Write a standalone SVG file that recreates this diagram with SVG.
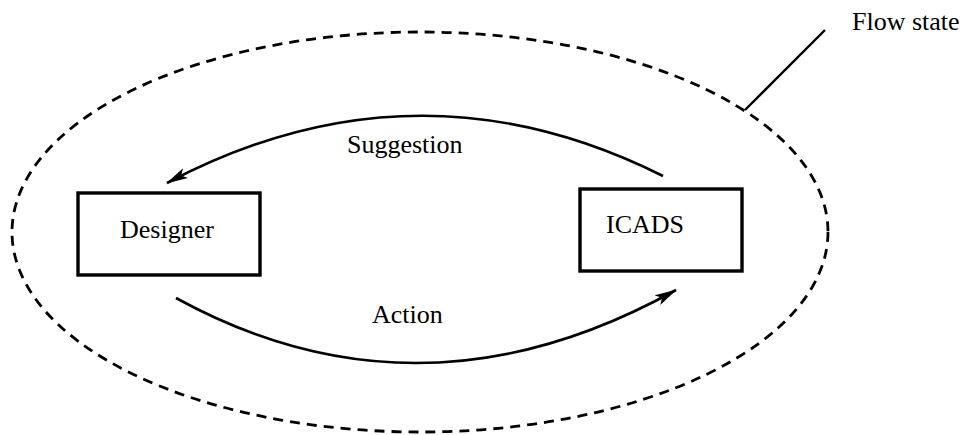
<svg xmlns="http://www.w3.org/2000/svg" width="970" height="435" viewBox="0 0 970 435">
  <style>
    .label { font-family: "Liberation Serif", "Times New Roman", serif; font-size: 26px; fill: #000; }
    .box { fill: #fff; stroke: #000; stroke-width: 3.4; }
    .flow { fill: none; stroke: #000; stroke-width: 2.6; }
    .boundary { fill: none; stroke: #000; stroke-width: 2.8; stroke-dasharray: 10 7; }
  </style>
  <defs>
    <marker id="head" viewBox="0 0 22 12" refX="21" refY="6" markerWidth="22" markerHeight="12" markerUnits="userSpaceOnUse" orient="auto">
      <path d="M0,0.5 L22,6 L0,11.5 L5,6 z" fill="#000"/>
    </marker>
  </defs>
  <rect width="970" height="435" fill="#fff"/>

  <!-- flow state boundary and its callout -->
  <g id="flow-state">
    <ellipse class="boundary" cx="420" cy="232" rx="408" ry="200"/>
    <line x1="745" y1="110" x2="825" y2="30" stroke="#000" stroke-width="2.4"/>
    <text class="label" x="852" y="30">Flow state</text>
  </g>

  <g id="designer">
    <rect class="box" x="78" y="193" width="182" height="82"/>
    <text class="label" x="120" y="238">Designer</text>
  </g>

  <g id="icads">
    <rect class="box" x="580" y="189" width="162" height="82"/>
    <text class="label" x="606" y="233">ICADS</text>
  </g>

  <g id="connectors">
    <path class="flow" d="M663,176 Q415,52 167,183" marker-end="url(#head)"/>
    <text class="label" x="347" y="153">Suggestion</text>
    <path class="flow" d="M176,298 Q420,432 676,290" marker-end="url(#head)"/>
    <text class="label" x="372" y="323">Action</text>
  </g>
</svg>
